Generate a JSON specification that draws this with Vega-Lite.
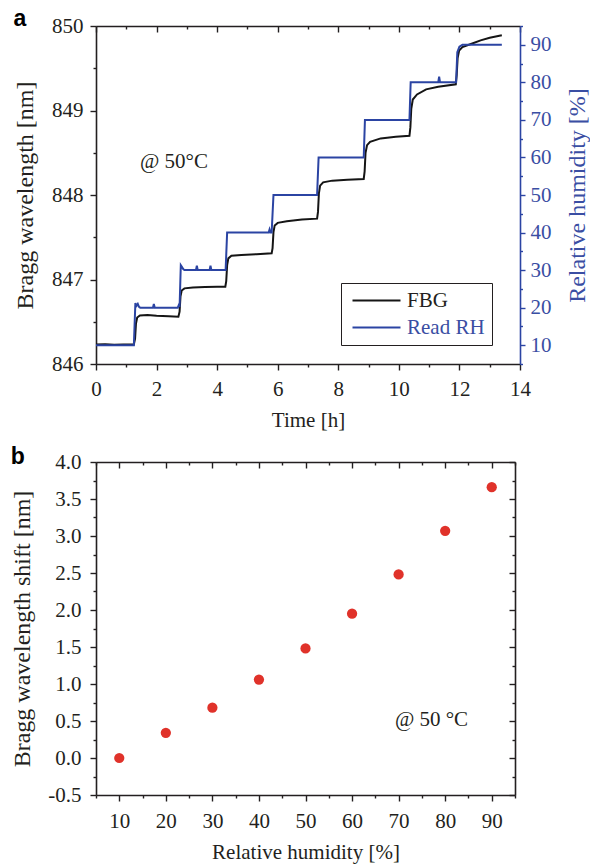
{
  "$schema": "https://vega.github.io/schema/vega-lite/v6.json",
  "background": "white",
  "padding": {"left": 10, "top": 8, "right": 1, "bottom": 2},
  "spacing": 16,
  "config": {
    "font": "Liberation Serif",
    "view": {"stroke": null},
    "axis": {
      "grid": false,
      "labelFont": "Liberation Serif",
      "titleFont": "Liberation Serif",
      "labelFontSize": 21,
      "titleFontSize": 21,
      "titleFontWeight": "normal",
      "labelColor": "#231f20",
      "titleColor": "#231f20",
      "domainColor": "#231f20",
      "tickColor": "#231f20",
      "domainWidth": 1.6,
      "tickWidth": 1.4,
      "labelOverlap": false,
      "labelFlush": false,
      "labelPadding": 5
    },
    "legend": {"labelFont": "Liberation Serif"},
    "title": {"font": "Liberation Sans", "fontWeight": "bold", "fontSize": 23, "color": "#000000", "anchor": "start", "frame": "bounds"}
  },
  "datasets": {
    "fbg": [
      {"t": 0, "w": 846.23, "series": "FBG"},
      {"t": 0.3, "w": 846.235, "series": "FBG"},
      {"t": 0.6, "w": 846.228, "series": "FBG"},
      {"t": 0.9, "w": 846.232, "series": "FBG"},
      {"t": 1.25, "w": 846.23, "series": "FBG"},
      {"t": 1.29, "w": 846.3, "series": "FBG"},
      {"t": 1.32, "w": 846.48, "series": "FBG"},
      {"t": 1.36, "w": 846.55, "series": "FBG"},
      {"t": 1.45, "w": 846.575, "series": "FBG"},
      {"t": 1.7, "w": 846.58, "series": "FBG"},
      {"t": 2.0, "w": 846.57, "series": "FBG"},
      {"t": 2.4, "w": 846.565, "series": "FBG"},
      {"t": 2.72, "w": 846.56, "series": "FBG"},
      {"t": 2.76, "w": 846.62, "series": "FBG"},
      {"t": 2.79, "w": 846.8, "series": "FBG"},
      {"t": 2.83, "w": 846.87, "series": "FBG"},
      {"t": 2.92, "w": 846.895, "series": "FBG"},
      {"t": 3.2, "w": 846.905, "series": "FBG"},
      {"t": 3.6, "w": 846.91, "series": "FBG"},
      {"t": 4.0, "w": 846.915, "series": "FBG"},
      {"t": 4.27, "w": 846.915, "series": "FBG"},
      {"t": 4.3, "w": 846.98, "series": "FBG"},
      {"t": 4.33, "w": 847.17, "series": "FBG"},
      {"t": 4.37, "w": 847.25, "series": "FBG"},
      {"t": 4.47, "w": 847.28, "series": "FBG"},
      {"t": 4.8, "w": 847.29, "series": "FBG"},
      {"t": 5.3, "w": 847.3, "series": "FBG"},
      {"t": 5.8, "w": 847.31, "series": "FBG"},
      {"t": 5.83, "w": 847.37, "series": "FBG"},
      {"t": 5.86, "w": 847.56, "series": "FBG"},
      {"t": 5.9, "w": 847.64, "series": "FBG"},
      {"t": 6.0, "w": 847.67, "series": "FBG"},
      {"t": 6.3, "w": 847.69, "series": "FBG"},
      {"t": 6.8, "w": 847.71, "series": "FBG"},
      {"t": 7.3, "w": 847.72, "series": "FBG"},
      {"t": 7.33, "w": 847.8, "series": "FBG"},
      {"t": 7.36, "w": 848.02, "series": "FBG"},
      {"t": 7.4, "w": 848.11, "series": "FBG"},
      {"t": 7.5, "w": 848.15, "series": "FBG"},
      {"t": 7.8, "w": 848.17, "series": "FBG"},
      {"t": 8.3, "w": 848.18, "series": "FBG"},
      {"t": 8.84, "w": 848.19, "series": "FBG"},
      {"t": 8.87, "w": 848.28, "series": "FBG"},
      {"t": 8.9, "w": 848.5, "series": "FBG"},
      {"t": 8.95, "w": 848.59, "series": "FBG"},
      {"t": 9.05, "w": 848.63, "series": "FBG"},
      {"t": 9.4, "w": 848.67, "series": "FBG"},
      {"t": 9.9, "w": 848.69, "series": "FBG"},
      {"t": 10.35, "w": 848.7, "series": "FBG"},
      {"t": 10.38, "w": 848.8, "series": "FBG"},
      {"t": 10.41, "w": 849.02, "series": "FBG"},
      {"t": 10.46, "w": 849.13, "series": "FBG"},
      {"t": 10.6, "w": 849.19, "series": "FBG"},
      {"t": 10.9, "w": 849.25, "series": "FBG"},
      {"t": 11.3, "w": 849.28, "series": "FBG"},
      {"t": 11.88, "w": 849.31, "series": "FBG"},
      {"t": 11.91, "w": 849.42, "series": "FBG"},
      {"t": 11.94, "w": 849.62, "series": "FBG"},
      {"t": 11.99, "w": 849.71, "series": "FBG"},
      {"t": 12.1, "w": 849.75, "series": "FBG"},
      {"t": 12.4, "w": 849.79, "series": "FBG"},
      {"t": 12.7, "w": 849.83, "series": "FBG"},
      {"t": 13.0, "w": 849.86, "series": "FBG"},
      {"t": 13.4, "w": 849.89, "series": "FBG"}
    ],
    "rh": [
      {"t": 0, "rh": 10, "series": "Read RH"},
      {"t": 1.25, "rh": 10, "series": "Read RH"},
      {"t": 1.3, "rh": 21.2, "series": "Read RH"},
      {"t": 1.34, "rh": 20.5, "series": "Read RH"},
      {"t": 1.38, "rh": 21, "series": "Read RH"},
      {"t": 1.42, "rh": 20.2, "series": "Read RH"},
      {"t": 1.46, "rh": 20, "series": "Read RH"},
      {"t": 1.88, "rh": 20, "series": "Read RH"},
      {"t": 1.91, "rh": 21, "series": "Read RH"},
      {"t": 1.94, "rh": 20, "series": "Read RH"},
      {"t": 2.7, "rh": 20, "series": "Read RH"},
      {"t": 2.74, "rh": 20.8, "series": "Read RH"},
      {"t": 2.76, "rh": 20.2, "series": "Read RH"},
      {"t": 2.8, "rh": 31.3, "series": "Read RH"},
      {"t": 2.84, "rh": 30.8, "series": "Read RH"},
      {"t": 2.88, "rh": 30.3, "series": "Read RH"},
      {"t": 2.92, "rh": 30, "series": "Read RH"},
      {"t": 3.3, "rh": 30, "series": "Read RH"},
      {"t": 3.33, "rh": 31.2, "series": "Read RH"},
      {"t": 3.36, "rh": 30, "series": "Read RH"},
      {"t": 3.75, "rh": 30, "series": "Read RH"},
      {"t": 3.78, "rh": 31.2, "series": "Read RH"},
      {"t": 3.81, "rh": 30, "series": "Read RH"},
      {"t": 4.28, "rh": 30, "series": "Read RH"},
      {"t": 4.33, "rh": 40, "series": "Read RH"},
      {"t": 5.7, "rh": 40, "series": "Read RH"},
      {"t": 5.73, "rh": 40.8, "series": "Read RH"},
      {"t": 5.76, "rh": 40, "series": "Read RH"},
      {"t": 5.8, "rh": 40, "series": "Read RH"},
      {"t": 5.86, "rh": 50, "series": "Read RH"},
      {"t": 7.3, "rh": 50, "series": "Read RH"},
      {"t": 7.35, "rh": 60, "series": "Read RH"},
      {"t": 8.84, "rh": 60, "series": "Read RH"},
      {"t": 8.88, "rh": 70, "series": "Read RH"},
      {"t": 10.35, "rh": 70, "series": "Read RH"},
      {"t": 10.39, "rh": 80, "series": "Read RH"},
      {"t": 11.3, "rh": 80, "series": "Read RH"},
      {"t": 11.33, "rh": 81.5, "series": "Read RH"},
      {"t": 11.36, "rh": 80, "series": "Read RH"},
      {"t": 11.89, "rh": 80, "series": "Read RH"},
      {"t": 11.93, "rh": 88, "series": "Read RH"},
      {"t": 12.0, "rh": 89.5, "series": "Read RH"},
      {"t": 12.1, "rh": 90, "series": "Read RH"},
      {"t": 13.4, "rh": 90, "series": "Read RH"}
    ],
    "shift": [
      {"rh": 10, "shift": 0.0},
      {"rh": 20, "shift": 0.34},
      {"rh": 30, "shift": 0.68},
      {"rh": 40, "shift": 1.06},
      {"rh": 50, "shift": 1.48},
      {"rh": 60, "shift": 1.95},
      {"rh": 70, "shift": 2.48},
      {"rh": 80, "shift": 3.07},
      {"rh": 90, "shift": 3.66}
    ]
  },
  "vconcat": [
    {
      "width": 424,
      "height": 338,
      "title": {"text": "a", "offset": -16},
      "layer": [
        {
          "data": {"name": "fbg"},
          "mark": {"type": "line", "strokeWidth": 2, "interpolate": "linear"},
          "encoding": {
            "x": {
              "field": "t", "type": "quantitative",
              "scale": {"domain": [0, 14], "nice": false},
              "axis": {
                "orient": "bottom", "title": "Time [h]",
                "labelFont": "Liberation Serif", "titleFont": "Liberation Serif",
                "values": [0,1,2,3,4,5,6,7,8,9,10,11,12,13,14],
                "labelExpr": "datum.value % 2 === 0 ? format(datum.value, 'd') : ''",
                "tickSize": {"condition": {"test": "datum.value % 2 === 0", "value": 6}, "value": 3},
                "labelPadding": 8,
                "titlePadding": 10
              }
            },
            "y": {
              "field": "w", "type": "quantitative",
              "scale": {"domain": [846, 850], "nice": false, "zero": false},
              "axis": {
                "orient": "left", "title": "Bragg wavelength [nm]",
                "labelFont": "Liberation Serif", "titleFont": "Liberation Serif",
                "titleFontSize": 24,
                "values": [846, 846.5, 847, 847.5, 848, 848.5, 849, 849.5, 850],
                "labelExpr": "datum.value % 1 === 0 ? format(datum.value, 'd') : ''",
                "tickSize": {"condition": {"test": "datum.value % 1 === 0", "value": 6}, "value": 3},
                "labelPadding": 7,
                "titlePadding": 14
              }
            },
            "color": {
              "field": "series", "type": "nominal",
              "scale": {"domain": ["FBG", "Read RH"], "range": ["#151515", "#2b44a3"]},
              "legend": {
                "title": null,
                "orient": "none",
                "legendX": 245,
                "legendY": 257,
                "strokeColor": "#231f20",
                "fillColor": "white",
                "padding": 7,
                "labelFont": "Liberation Serif",
                "labelFontSize": 21,
                "labelOffset": 38,
                "rowPadding": 5,
                "symbolType": "M-1,0H7",
                "symbolSize": 144,
                "symbolStrokeWidth": 2,
                "encode": {
                  "labels": {"update": {"fill": {"signal": "datum.label === 'Read RH' ? '#3a4ea3' : '#231f20'"}}}
                }
              }
            }
          }
        },
        {
          "data": {"name": "rh"},
          "mark": {"type": "line", "strokeWidth": 2},
          "encoding": {
            "x": {
              "field": "t", "type": "quantitative",
              "scale": {"domain": [0, 14], "nice": false},
              "axis": {
                "orient": "top", "title": null, "labels": false,
                "values": [0,1,2,3,4,5,6,7,8,9,10,11,12,13,14],
                "tickSize": {"condition": {"test": "datum.value % 2 === 0", "value": -6}, "value": -3}
              }
            },
            "y": {
              "field": "rh", "type": "quantitative",
              "scale": {"domain": [5, 95], "nice": false, "zero": false},
              "axis": {
                "orient": "right", "title": "Relative humidity [%]",
                "labelFont": "Liberation Serif", "titleFont": "Liberation Serif",
                "titleFontSize": 24,
                "values": [5,10,15,20,25,30,35,40,45,50,55,60,65,70,75,80,85,90,95],
                "labelExpr": "datum.value % 10 === 0 ? format(datum.value, 'd') : ''",
                "tickSize": {"condition": {"test": "datum.value % 10 === 0", "value": 5}, "value": 2.5},
                "domainColor": "#2b44a3",
                "tickColor": "#2b44a3",
                "labelColor": "#3a4ea3",
                "titleColor": "#3a4ea3",
                "labelPadding": 5,
                "titleAngle": -90,
                "titleBaseline": "top",
                "titlePadding": 14
              }
            },
            "color": {"field": "series", "type": "nominal"}
          }
        },
        {
          "data": {"values": [{"label": "@ 50°C"}]},
          "mark": {"type": "text", "align": "left", "baseline": "middle", "fontSize": 21, "font": "Liberation Serif", "color": "#231f20"},
          "encoding": {
            "x": {"datum": 1.45, "type": "quantitative", "axis": null},
            "y": {"datum": 848.39, "type": "quantitative", "scale": {"domain": [846, 850], "nice": false, "zero": false}, "axis": null},
            "text": {"field": "label"}
          }
        }
      ],
      "resolve": {"scale": {"y": "independent"}, "axis": {"x": "independent", "y": "independent"}}
    },
    {
      "width": 419,
      "height": 333,
      "title": {"text": "b", "offset": -18},
      "layer": [
        {
          "data": {"name": "shift"},
          "mark": {"type": "circle", "size": 105, "color": "#e0322a", "opacity": 1},
          "encoding": {
            "x": {
              "field": "rh", "type": "quantitative",
              "scale": {"domain": [5, 95], "nice": false, "zero": false},
              "axis": {
                "orient": "bottom", "title": "Relative humidity [%]",
                "labelFont": "Liberation Serif", "titleFont": "Liberation Serif",
                "values": [5,10,15,20,25,30,35,40,45,50,55,60,65,70,75,80,85,90,95],
                "labelExpr": "datum.value % 10 === 0 ? format(datum.value, 'd') : ''",
                "tickSize": {"condition": {"test": "datum.value % 10 === 0", "value": 6}, "value": 3},
                "labelPadding": 9,
                "titlePadding": 10
              }
            },
            "y": {
              "field": "shift", "type": "quantitative",
              "scale": {"domain": [-0.5, 4], "nice": false, "zero": false},
              "axis": {
                "orient": "left", "title": "Bragg wavelength shift [nm]",
                "labelFont": "Liberation Serif", "titleFont": "Liberation Serif",
                "titleFontSize": 24,
                "values": [-0.5,-0.25,0,0.25,0.5,0.75,1,1.25,1.5,1.75,2,2.25,2.5,2.75,3,3.25,3.5,3.75,4],
                "labelExpr": "(datum.value * 2) % 1 === 0 ? replace(format(datum.value, '.1f'), '\u2212', '-') : ''",
                "tickSize": {"condition": {"test": "(datum.value * 2) % 1 === 0", "value": 6}, "value": 3},
                "labelPadding": 9,
                "titlePadding": 13
              }
            }
          }
        },
        {
          "data": {"name": "shift"},
          "mark": {"type": "circle", "opacity": 0},
          "encoding": {
            "x": {
              "field": "rh", "type": "quantitative",
              "scale": {"domain": [5, 95], "nice": false, "zero": false},
              "axis": {
                "orient": "top", "title": null, "labels": false,
                "values": [5,10,15,20,25,30,35,40,45,50,55,60,65,70,75,80,85,90,95],
                "tickSize": {"condition": {"test": "datum.value % 10 === 0", "value": -6}, "value": -3}
              }
            },
            "y": {
              "field": "shift", "type": "quantitative",
              "scale": {"domain": [-0.5, 4], "nice": false, "zero": false},
              "axis": {
                "orient": "right", "title": null, "labels": false,
                "values": [-0.5,-0.25,0,0.25,0.5,0.75,1,1.25,1.5,1.75,2,2.25,2.5,2.75,3,3.25,3.5,3.75,4],
                "tickSize": {"condition": {"test": "(datum.value * 2) % 1 === 0", "value": -6}, "value": -3}
              }
            }
          }
        },
        {
          "data": {"values": [{"label": "@ 50 °C"}]},
          "mark": {"type": "text", "align": "left", "baseline": "middle", "fontSize": 21, "font": "Liberation Serif", "color": "#231f20"},
          "encoding": {
            "x": {"datum": 69.2, "type": "quantitative", "axis": null},
            "y": {"datum": 0.52, "type": "quantitative", "axis": null},
            "text": {"field": "label"}
          }
        }
      ],
      "resolve": {"axis": {"x": "independent", "y": "independent"}}
    }
  ]
}
